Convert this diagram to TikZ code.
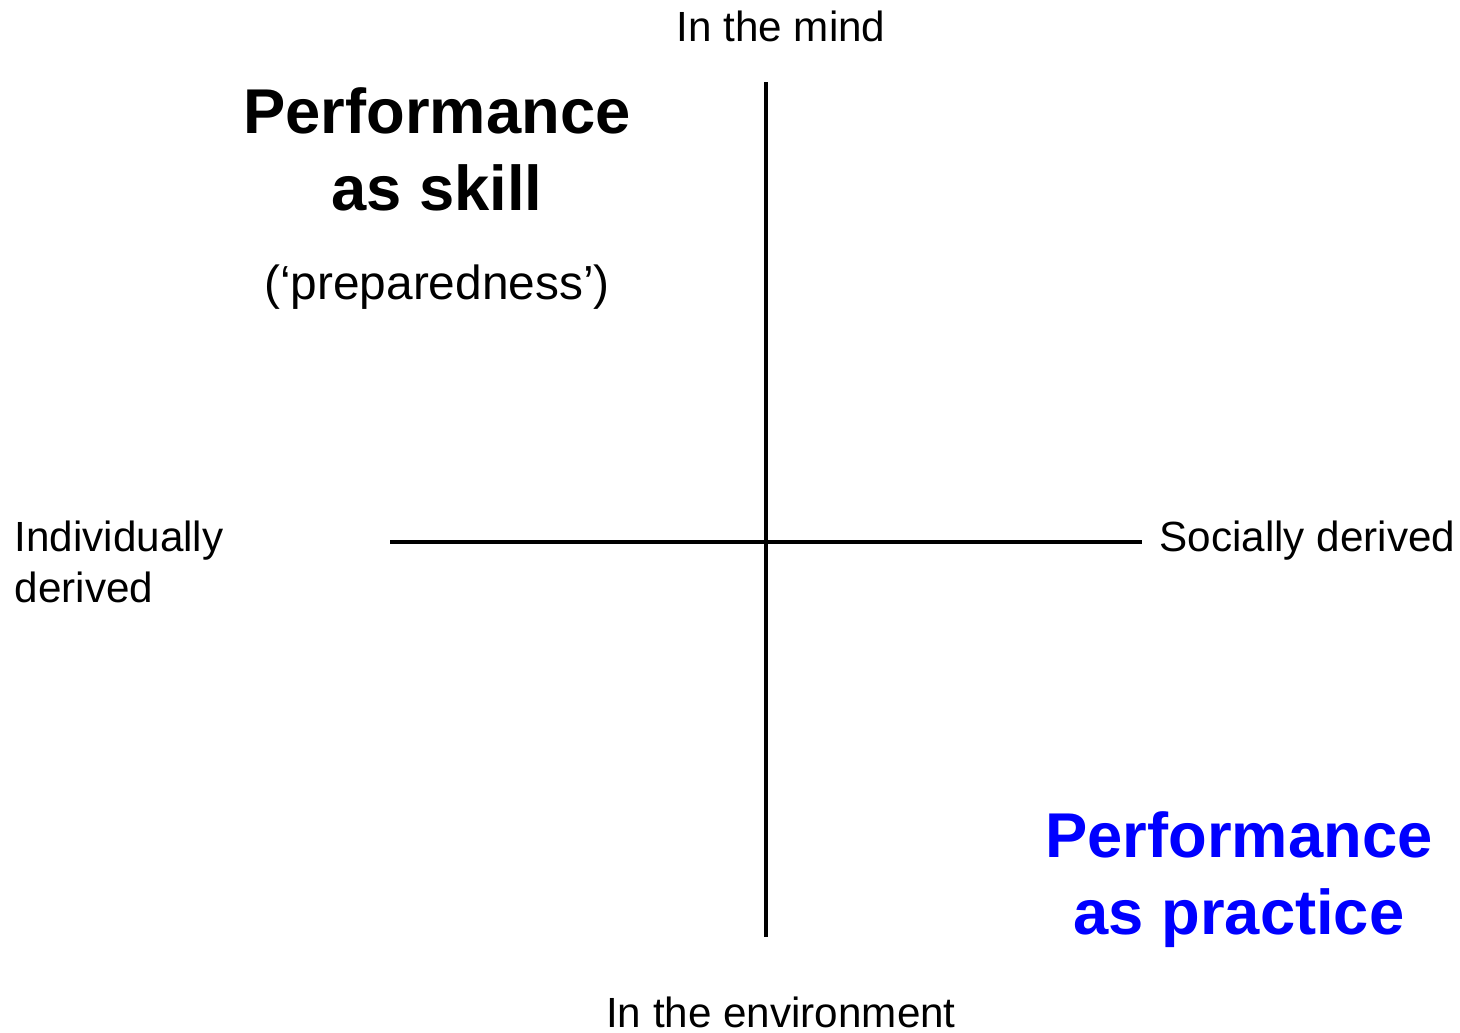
\documentclass[tikz,border=0pt]{standalone}
\usepackage{fontspec}
\setmainfont{Liberation Sans}
\usepackage{xcolor}
\usetikzlibrary{positioning}
\definecolor{practiceblue}{RGB}{0,0,255}
\tikzset{
  axis/.style={line width=1.4pt, draw=black},
  pole/.style={inner sep=0pt, font=\fontsize{12}{14.5}\selectfont},
  title/.style={inner sep=0pt, align=center, font=\fontsize{18}{21.9}\selectfont\bfseries},
  note/.style={inner sep=0pt, font=\fontsize{13.6}{16}\selectfont},
}
\begin{document}
\begin{tikzpicture}[x=0.01cm, y=-0.01cm]
    \useasboundingbox (0,0) rectangle (1460,1032);
    % axis ends
    \coordinate (top) at (766,82);
    \coordinate (bottom) at (766,937);
    \coordinate (left) at (390,542);
    \coordinate (right) at (1142,542);
    \draw[axis] (top) -- (bottom);
    \draw[axis] (left) -- (right);
    % poles
    \node[pole, anchor=base] (mind) at (781,41) {In the mind};
    \node[pole, anchor=base] (env) at (781,1027) {In the environment};
    \node[pole, anchor=west, align=left] (indiv) at (14,562) {Individually\\derived};
    \node[pole, anchor=base west] (social) at (1159,551) {Socially derived};
    % quadrants
    \node[title, anchor=base] (skill) at (437,210) {Performance\\as skill};
    \node[note, anchor=base] (prep) at (437,299) {(‘preparedness’)};
    \node[title, anchor=base, text=practiceblue] (practice) at (1239,934) {Performance\\as practice};
\end{tikzpicture}
\end{document}
